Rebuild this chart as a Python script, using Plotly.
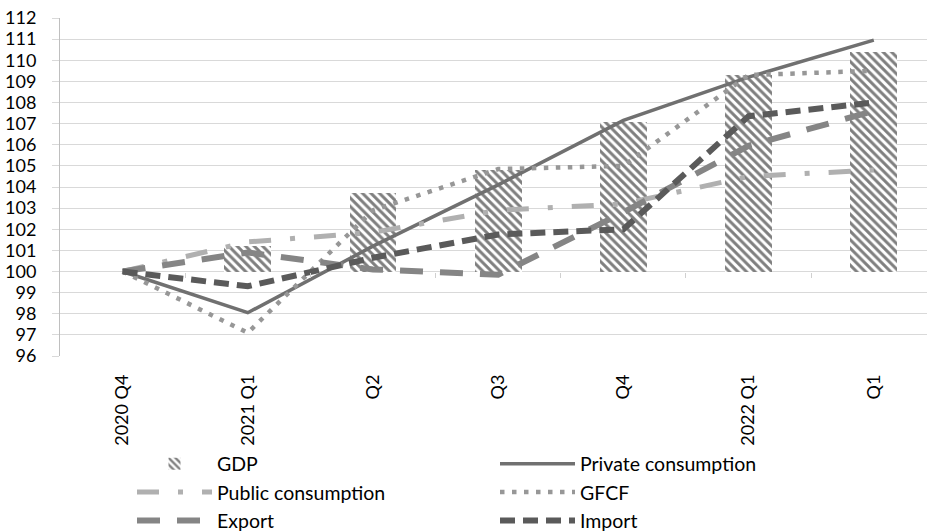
import plotly.graph_objects as go

categories = ["2020 Q4", "2021 Q1", "Q2", "Q3", "Q4", "2022 Q1", "Q1"]
gdp = [100.0, 101.2, 103.7, 104.8, 107.1, 109.3, 110.4]
private_cons = [100.0, 98.05, 101.2, 104.1, 107.15, 109.2, 110.95]
public_cons = [100.0, 101.4, 101.85, 102.9, 103.2, 104.5, 104.8]
gfcf = [100.0, 97.1, 102.9, 104.85, 105.0, 109.3, 109.5]
export = [100.0, 100.9, 100.1, 99.85, 102.8, 105.95, 107.6]
imports = [100.0, 99.3, 100.65, 101.75, 102.0, 107.35, 108.0]
y_ticks = list(range(96, 113))
base_value = 100

xs = list(range(len(categories)))
FONT = "Lato"

fig = go.Figure()
fig.add_trace(go.Bar(
    x=xs, y=[v - base_value for v in gdp], base=base_value, name="GDP",
    width=0.375,
    marker=dict(color="white", line=dict(width=0),
                pattern=dict(shape="\\", fgcolor="black", bgcolor="white", size=6, solidity=0.5)),
))
fig.add_trace(go.Scatter(x=xs, y=private_cons, name="Private consumption", mode="lines",
                         line=dict(color="#707070", width=3.5)))
fig.add_trace(go.Scatter(x=xs, y=public_cons, name="Public consumption", mode="lines",
                         line=dict(color="#b0b0b0", width=5, dash="22px,19px,5px,19px")))
fig.add_trace(go.Scatter(x=xs, y=gfcf, name="GFCF", mode="lines",
                         line=dict(color="#979797", width=4.5, dash="4.5px,7.5px")))
fig.add_trace(go.Scatter(x=xs, y=export, name="Export", mode="lines",
                         line=dict(color="#858585", width=6, dash="23px,17px")))
fig.add_trace(go.Scatter(x=xs, y=imports, name="Import", mode="lines",
                         line=dict(color="#5a5a5a", width=6, dash="15px,8px")))

x_range = [-0.5, 6.425]
fig.update_layout(
    width=927, height=532,
    margin=dict(l=60, r=0, t=18, b=176, autoexpand=False),
    paper_bgcolor="white", plot_bgcolor="white",
    font=dict(family=FONT, color="black", size=18),
    showlegend=True,
    legend=dict(orientation="h", x=(132 - 60) / 867, y=-0.262, xanchor="left", yanchor="top",
                entrywidth=273, itemwidth=75, font=dict(size=19.5, family=FONT),
                bgcolor="rgba(0,0,0,0)", traceorder="normal"),
    xaxis=dict(range=x_range, tickvals=xs, ticktext=categories, tickangle=-90,
               showgrid=False, showline=False, zeroline=False, ticks="", automargin=False,
               ticklabelstandoff=14, tickfont=dict(size=18, family=FONT)),
    xaxis2=dict(range=x_range, overlaying="x", anchor="free", position=(base_value - 96) / 16,
                side="bottom", tickvals=[x + 0.5 for x in xs], ticks="outside", ticklen=5,
                tickcolor="#d0d0d0", tickwidth=1, showticklabels=False, showgrid=False,
                showline=False, zeroline=False, automargin=False),
    yaxis=dict(range=[96, 112], tickvals=y_ticks, showgrid=True, gridcolor="#d9d9d9",
               gridwidth=1, showline=True, linecolor="#bfbfbf", linewidth=1, automargin=False,
               ticks="outside", ticklen=7, tickcolor="#d9d9d9", zeroline=False,
               ticklabelstandoff=12, tickfont=dict(size=18, family=FONT)),
    bargap=0,
)
# invisible trace to anchor the tick-only overlay axis
fig.add_trace(go.Scatter(x=[x_range[0]], y=[base_value], xaxis="x2", mode="markers",
                         marker=dict(opacity=0), showlegend=False, hoverinfo="skip"))

fig.write_html("out.html")
